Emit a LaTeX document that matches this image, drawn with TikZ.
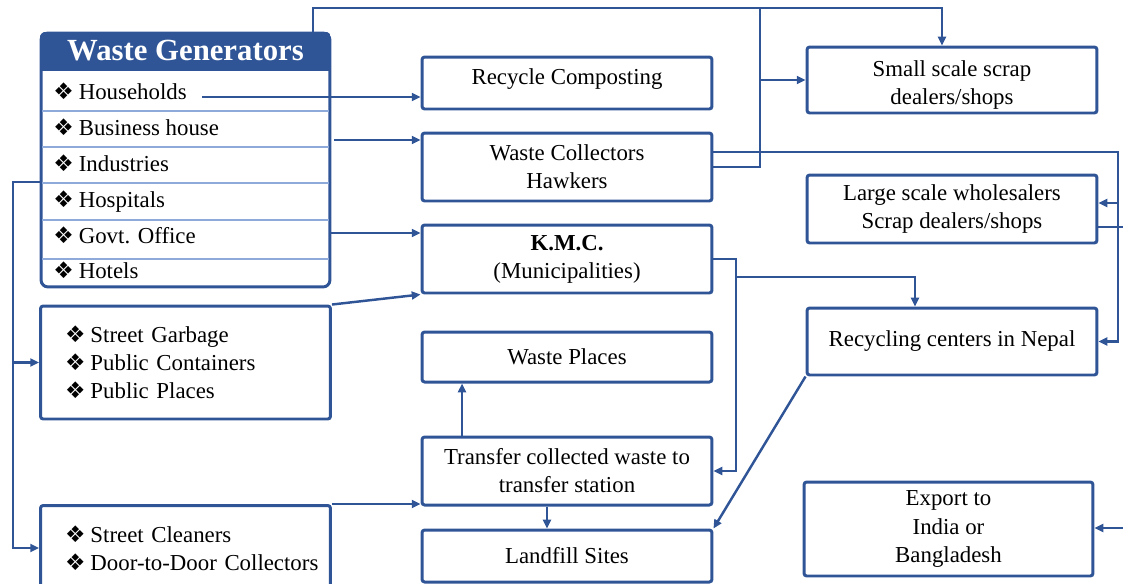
\documentclass[tikz,border=0pt]{standalone}
\usepackage{fontspec}
\setmainfont{Liberation Serif}
\newfontfamily\symfont{DejaVu Sans}
\usetikzlibrary{arrows.meta}
\definecolor{wgblue}{HTML}{2F5597}
\definecolor{rowblue}{HTML}{8EAADB}
\newcommand{\itm}{{\symfont\fontsize{13}{10}\selectfont ❖}\hspace{0.1cm}}
\newcommand{\litm}{\hspace*{0.38cm}\itm}
\hyphenpenalty=10000

\begin{document}
\begin{tikzpicture}[
         x=0.02cm, y=-0.02cm,
         font=\fontsize{13}{16}\selectfont,
         box/.style={draw=wgblue, line width=1.7pt, rounded corners=1.5pt, minimum width=5.8cm, align=center, inner sep=2pt},
         listbox/.style={box, align=left, text width=5.58cm, inner xsep=0.1cm},
         wgbox/.style={draw=wgblue, line width=1.7pt, rounded corners=4pt, minimum width=5.78cm, minimum height=5.08cm},
         entry/.style={anchor=base west, inner sep=0pt},
         seprow/.style={rowblue, line width=0.8pt},
         link/.style={draw=wgblue, line width=1.4pt},
         arr/.style={link, -{Triangle[length=5pt, width=4.5pt]}}
      ]
         \useasboundingbox (0,0) rectangle (1123,583);

         % Waste generators table
         \node[wgbox] (wg) at (185.5,160) {};
         \begin{scope}
            \clip[rounded corners=4pt] (wg.north west) rectangle (wg.south east);
            \fill[wgblue] (wg.north west) rectangle (330,71);
         \end{scope}
         \node[font=\fontsize{17.5}{20}\selectfont\bfseries, text=white] (wgt) at (185.5,51) {Waste Generators};
         \foreach \yy in {111,147,183,220,259}
            \draw[seprow] (42,\yy) -- (329,\yy);
         \node[entry] (hh) at (53,99) {\itm Households};
         \node[entry] (bh) at (53,135) {\itm Business house};
         \node[entry] (ind) at (53,171) {\itm Industries};
         \node[entry] (hos) at (53,207) {\itm Hospitals};
         \node[entry] (gov) at (53,243) {\itm Govt. Office};
         \node[entry] (hot) at (53,278) {\itm Hotels};

         % Other sources
         \node[listbox, minimum height=2.26cm] (sg) at (185.5,362.5) {\litm Street Garbage\\ \litm Public Containers\\ \litm Public Places};
         \node[listbox, minimum height=1.7cm] (sc) at (185.5,548) {\litm Street Cleaners\\ \litm Door-to-Door Collectors};

         % Middle column
         \node[box, minimum height=1.04cm, text depth=7.3pt] (rc) at (567,83) {Recycle Composting};
         \node[box, minimum height=1.36cm] (wc) at (567,167) {Waste Collectors\\Hawkers};
         \node[box, minimum height=1.36cm] (kmc) at (567,259) {\textbf{K.M.C.}\\(Municipalities)};
         \node[box, minimum height=1.0cm] (wp) at (567,357) {Waste Places};
         \node[box, minimum height=1.36cm] (tr) at (567,471) {Transfer collected waste to\\transfer station};
         \node[box, minimum height=1.04cm] (lf) at (567,556) {Landfill Sites};

         % Right column
         \node[box, minimum height=1.32cm, text height=28pt, text depth=0pt] (ss) at (952,80) {Small scale scrap\\dealers/shops};
         \node[box, minimum height=1.36cm] (ls) at (952,209) {Large scale wholesalers\\Scrap dealers/shops};
         \node[box, minimum height=1.34cm] (rcn) at (952,341.5) {Recycling centers in Nepal};
         \node[box, minimum width=5.78cm, minimum height=1.88cm] (ex) at (948.5,529) {Export to\\India or\\Bangladesh};

         % Bends of the connectors
         \coordinate (hhout) at (202,97);
         \coordinate (bhout) at (334,140);
         \coordinate (govout) at (330,233);
         \coordinate (lbus) at (13,182);
         \coordinate (topline) at (313,8);
         \coordinate (midbus) at (760,8);
         \coordinate (rbus) at (1118,152);
         \coordinate (lsin) at (1118,203);
         \coordinate (lsout) at (1135,227);
         \coordinate (exin) at (1135,528);
         \coordinate (kbus) at (736,258);
         \coordinate (krbus) at (736,277);

         % Arrows from the sources
         \draw[arr] (hhout) -- (hhout -| rc.west);
         \draw[arr] (bhout) -- (bhout -| wc.west);
         \draw[arr] (govout) -- (govout -| kmc.west);
         \draw[arr] (sg.north east) -- (kmc.south west);
         \draw[arr] (sc.north east) -- (sc.north east -| tr.west);
         \draw[arr] (lbus -| wg.west) -- (lbus) |- (sg.west);
         \draw[arr] (lbus) |- (sc.west);
         \draw[arr] (topline |- wg.north) -- (topline) -| ([xshift=-0.2cm]ss.north);

         % Arrows to the scrap dealers
         \draw[link] (wc.east) -| (midbus);
         \draw[arr] (midbus |- ss.west) -- (ss.west);
         \draw[arr] (rbus -| wc.east) -- (rbus) |- (rcn.east);
         \draw[arr] (lsin) -- (lsin -| ls.east);
         \draw[link] (lsout -| ls.east) -- (lsout);
         \draw[arr] (exin) -- (exin -| ex.east);

         % Arrows from K.M.C.
         \draw[arr] (kmc.east) -- (kmc.east -| kbus) |- (tr.east);
         \draw[arr] (krbus) -| ([xshift=-0.74cm]rcn.north);
         \draw[arr] (rcn.south west) -- (lf.north east);
         \draw[arr] ([xshift=-2.1cm]tr.north) -- ([xshift=-2.1cm]wp.south);
         \draw[arr] ([xshift=-0.4cm]tr.south) -- ([xshift=-0.4cm]lf.north);
      \end{tikzpicture}
\end{document}
